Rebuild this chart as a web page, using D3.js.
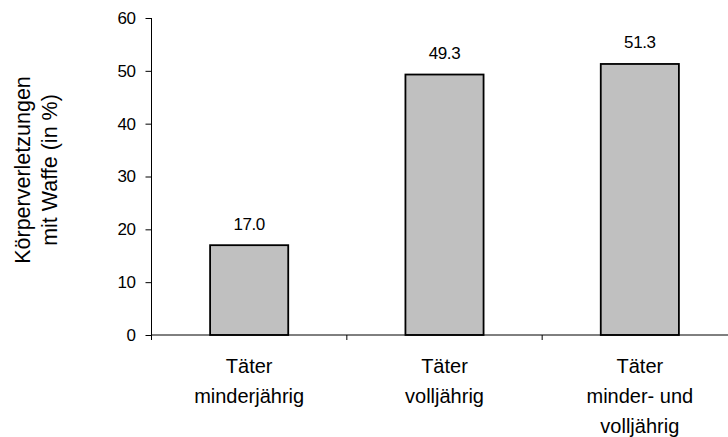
<!DOCTYPE html>
<html><head><meta charset="utf-8">
<script src="https://cdn.jsdelivr.net/npm/d3@7"></script>
<style>body{margin:0;background:#fff}svg{display:block;font-family:"Liberation Sans",Arial,sans-serif}</style>
</head><body><svg id="c" width="728" height="437"></svg>
<script>
const categories = [["Täter","minderjährig"],["Täter","volljährig"],["Täter","minder- und","volljährig"]];
const values = [17.0, 49.3, 51.3];
const valueLabels = ["17.0","49.3","51.3"];
const yTicks = [0,10,20,30,40,50,60];
const yTitle = ["Körperverletzungen","mit Waffe (in %)"];

const FONT = "Liberation Sans, Arial, sans-serif";
const svg = d3.select("#c");
const x0 = 151.5, x1 = 737.5, yTop = 18, yBot = 335;
const x = d3.scaleBand().domain(d3.range(categories.length)).range([x0,x1]).paddingInner(0).paddingOuter(0);
const y = d3.scaleLinear().domain([0,60]).range([yBot,yTop]);
const bw = x.bandwidth()*0.4;

// bars
svg.selectAll("rect.bar").data(values).join("rect")
  .attr("x",(d,i)=>x(i)+x.bandwidth()/2-bw/2)
  .attr("y",d=>y(d)).attr("width",bw).attr("height",d=>y(0)-y(d))
  .attr("fill","#c0c0c0").attr("stroke","#000").attr("stroke-width",1.8);

// value labels
svg.selectAll("text.val").data(values).join("text")
  .attr("x",(d,i)=>x(i)+x.bandwidth()/2).attr("y",d=>y(d)-15.5)
  .attr("text-anchor","middle").attr("font-size",17).attr("letter-spacing",-0.4)
  .attr("font-family",FONT).attr("fill","#000")
  .text((d,i)=>valueLabels[i]);

// y axis
const ya = svg.append("g").attr("transform",`translate(${x0},0)`)
  .call(d3.axisLeft(y).tickValues(yTicks).tickSize(6).tickPadding(10).tickFormat(d3.format("d")));
ya.select(".domain").attr("stroke","#000").attr("d",`M0,${yTop}V${yBot}`);
ya.selectAll(".tick line").attr("stroke","#000");
ya.selectAll(".tick text").attr("font-size",17).attr("letter-spacing",-0.4)
  .attr("font-family",FONT).attr("fill","#000");

// x axis
const xa = svg.append("g").attr("transform",`translate(0,${yBot})`);
xa.append("line").attr("x1",x0).attr("x2",x1).attr("y1",0).attr("y2",0).attr("stroke","#000");
const bounds = d3.range(categories.length+1).map(i=> i<categories.length ? x(i) : x1);
xa.selectAll("line.t").data(bounds).join("line")
  .attr("x1",d=>d).attr("x2",d=>d).attr("y1",0).attr("y2",5).attr("stroke","#000");

// category labels
categories.forEach((lines,i)=>{
  const t = svg.append("text").attr("text-anchor","middle").attr("font-size",20)
    .attr("font-family",FONT).attr("fill","#000");
  lines.forEach((l,j)=>t.append("tspan").attr("x",x(i)+x.bandwidth()/2).attr("y",373+j*30).text(l));
});

// y title
const yt = svg.append("text").attr("transform","translate(0,170) rotate(-90)")
  .attr("text-anchor","middle").attr("font-size",21.5).attr("font-family",FONT).attr("fill","#000");
yTitle.forEach((l,j)=>yt.append("tspan").attr("x",0).attr("y",29.5+j*27).text(l));
</script></body></html>
